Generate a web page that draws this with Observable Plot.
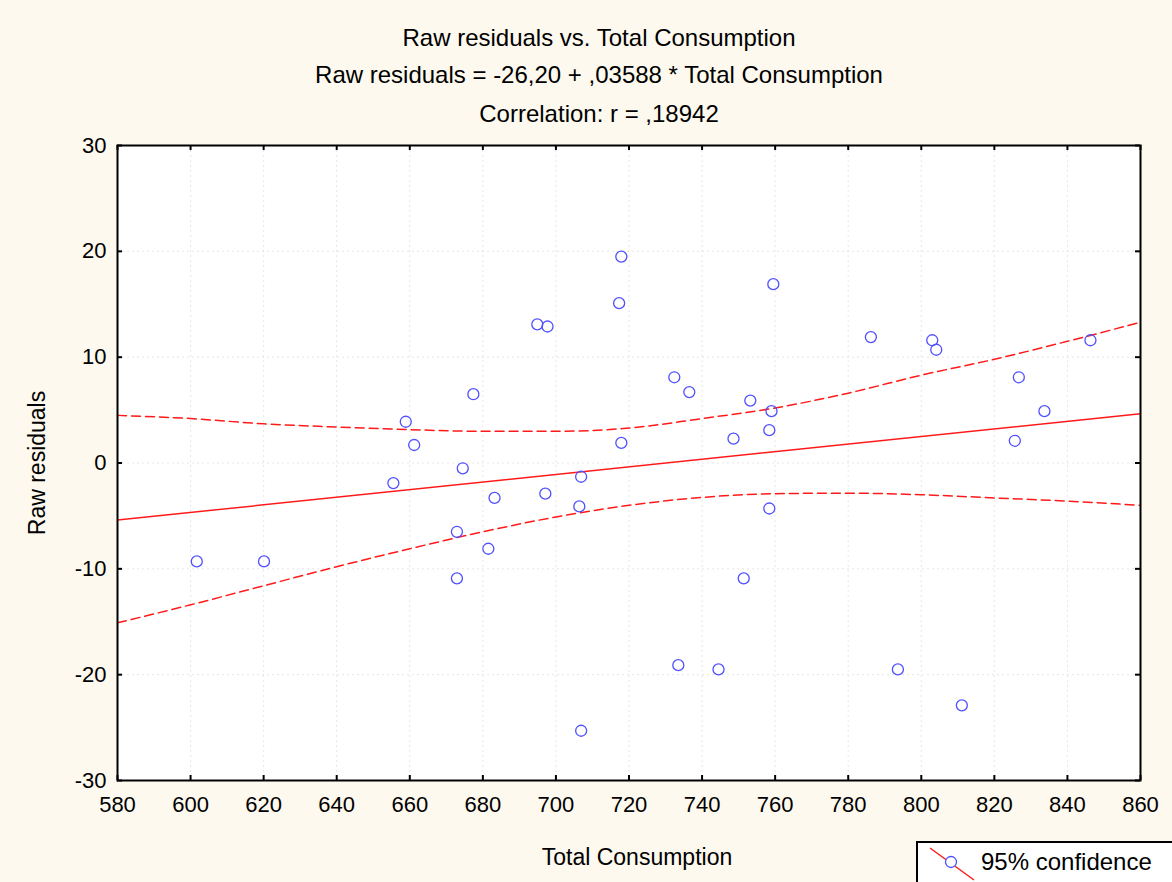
<!DOCTYPE html>
<html><head><meta charset="utf-8">
<script src="https://cdn.jsdelivr.net/npm/d3@7"></script>
<script src="https://cdn.jsdelivr.net/npm/@observablehq/plot@0.6"></script>
<style>
html,body{margin:0;padding:0;background:#fdf9ee;}
#chart{position:relative;width:1172px;height:882px;overflow:hidden;}
</style></head><body><div id="chart"></div>
<script>
// ---- data ----
const consumption = [601.7,620.1,655.5,658.9,661.2,672.9,672.9,674.5,677.4,681.5,683.2,694.9,697.7,697.1,706.4,706.9,706.9,717.3,717.9,717.9,732.4,733.5,736.5,744.5,748.6,751.4,753.2,758.4,758.4,759.0,759.5,786.2,793.6,803.0,804.1,811.1,825.6,826.7,833.7,846.3];
const residuals   = [-9.3,-9.3,-1.9,3.9,1.7,-6.5,-10.9,-0.5,6.5,-8.1,-3.3,13.1,12.9,-2.9,-4.1,-1.3,-25.3,15.1,19.5,1.9,8.1,-19.1,6.7,-19.5,2.3,-10.9,5.9,3.1,-4.3,4.9,16.9,11.9,-19.5,11.6,10.7,-22.9,2.1,8.1,4.9,11.6];
const bandX     = [580,600,620,640,660,680,700,720,740,760,780,800,820,840,860];
const bandUpper = [4.5,4.2,3.7,3.4,3.15,3.0,3.0,3.3,4.2,5.2,6.6,8.3,9.8,11.5,13.3];
const bandLower = [-15.1,-13.4,-11.6,-9.8,-8.1,-6.5,-5.1,-4.0,-3.25,-2.9,-2.85,-3.0,-3.3,-3.6,-4.0];
const intercept = -26.20, slope = 0.03588;
const xTicks = [580,600,620,640,660,680,700,720,740,760,780,800,820,840,860];
const yTicks = [-30,-20,-10,0,10,20,30];
const titleLines = ["Raw residuals vs. Total Consumption","Raw residuals = -26,20 + ,03588 * Total Consumption","Correlation: r = ,18942"];
const xLabel = "Total Consumption";
const yLabel = "Raw residuals";
const legendLabel = "95% confidence";

// ---- derived tables ----
const points = consumption.map((x, i) => ({x, y: residuals[i]}));
const fit = [xTicks[0], xTicks[xTicks.length-1]].map(x => ({x, y: intercept + slope * x}));
const upper = bandX.map((x, i) => ({x, y: bandUpper[i]}));
const lower = bandX.map((x, i) => ({x, y: bandLower[i]}));

const W = 1172, H = 882, mL = 117, mR = 32, mT = 145, mB = 102;
const frameH = H - mT - mB, frameW = W - mL - mR;
const font = "'Liberation Sans', Arial, Helvetica, sans-serif";
const red = "#ff1a1a", blue = "#5050ff";

const plot = Plot.plot({
  width: W, height: H,
  marginLeft: mL, marginRight: mR, marginTop: mT, marginBottom: mB,
  style: {background: "transparent", fontFamily: font, fontSize: "22px", color: "black", overflow: "hidden"},
  x: {domain: [580, 860], label: null},
  y: {domain: [-30, 30], label: null},
  marks: [
    Plot.frame({fill: "white", stroke: null}),
    Plot.gridX(xTicks, {stroke: "#d0d0d0", strokeOpacity: 0.5, strokeDasharray: "2,3"}),
    Plot.gridY(yTicks, {stroke: "#d0d0d0", strokeOpacity: 0.5, strokeDasharray: "2,3"}),
    Plot.axisX(xTicks, {tickSize: 0, tickPadding: 16, fontSize: 22, fill: "black", label: null, tickFormat: d => String(d)}),
    Plot.axisY(yTicks, {tickSize: 0, tickPadding: 11, fontSize: 22, fill: "black", label: null, tickFormat: d => String(d)}),
    Plot.tickX(xTicks, {x: d => d, insetTop: frameH - 5, stroke: "black", strokeWidth: 2}),
    Plot.tickX(xTicks, {x: d => d, insetBottom: frameH - 5, stroke: "black", strokeWidth: 2}),
    Plot.tickY(yTicks, {y: d => d, insetRight: frameW - 5, stroke: "black", strokeWidth: 2}),
    Plot.tickY(yTicks, {y: d => d, insetLeft: frameW - 5, stroke: "black", strokeWidth: 2}),
    Plot.line(upper, {x: "x", y: "y", stroke: red, strokeWidth: 1.5, strokeDasharray: "9,5", curve: "monotone-x"}),
    Plot.line(lower, {x: "x", y: "y", stroke: red, strokeWidth: 1.5, strokeDasharray: "9,5", curve: "monotone-x"}),
    Plot.line(fit, {x: "x", y: "y", stroke: red, strokeWidth: 1.5}),
    Plot.dot(points, {x: "x", y: "y", r: 5.5, stroke: blue, fill: "none", strokeWidth: 1.3}),
    Plot.frame({stroke: "black", strokeWidth: 2}),
    Plot.text([titleLines[0]], {frameAnchor: "top", dx: -30, dy: -107, fontSize: 24, fill: "black", lineAnchor: "middle"}),
    Plot.text([titleLines[1]], {frameAnchor: "top", dx: -30, dy: -70, fontSize: 24, fill: "black", lineAnchor: "middle"}),
    Plot.text([titleLines[2]], {frameAnchor: "top", dx: -30, dy: -31, fontSize: 24, fill: "black", lineAnchor: "middle"}),
    Plot.text([xLabel], {frameAnchor: "bottom", dx: 8, dy: 77, fontSize: 23, fill: "black", lineAnchor: "middle"}),
    Plot.text([yLabel], {frameAnchor: "left", dx: -80, rotate: -90, fontSize: 23, fill: "black", lineAnchor: "middle", textAnchor: "middle"})
  ]
});

// legend box, bottom right
const svg = d3.select(plot);
const lg = svg.append("g").attr("font-family", font).attr("text-anchor", "start");
lg.append("rect").attr("x", 917).attr("y", 842).attr("width", 280).attr("height", 60)
  .attr("fill", "white").attr("stroke", "black").attr("stroke-width", 2);
lg.append("line").attr("x1", 930).attr("y1", 848).attr("x2", 974).attr("y2", 880)
  .attr("stroke", red).attr("stroke-width", 1.5);
lg.append("circle").attr("cx", 951).attr("cy", 862).attr("r", 5.5)
  .attr("fill", "white").attr("stroke", blue).attr("stroke-width", 1.3);
lg.append("text").attr("x", 981).attr("y", 862).attr("dy", "0.35em")
  .attr("text-anchor", "start").attr("font-size", 24).attr("fill", "black").text(legendLabel);

document.getElementById("chart").appendChild(plot);
</script>
</body></html>
